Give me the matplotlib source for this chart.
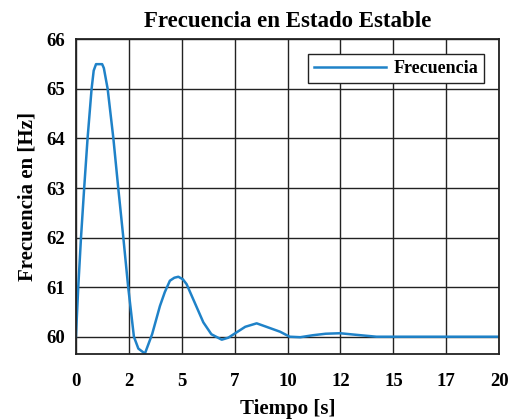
import matplotlib
matplotlib.use("Agg")
import matplotlib.pyplot as plt

# Frequency response samples: time [s] and frequency [Hz]
tiempo = [0.0, 0.11, 0.24, 0.39, 0.55, 0.74, 0.84, 0.95, 1.24, 1.32, 1.5, 1.77,
          2.0, 2.24, 2.47, 2.74, 2.95, 3.26, 3.6, 3.97, 4.2, 4.44, 4.65, 4.84,
          5.05, 5.23, 5.6, 6.02, 6.4, 6.89, 7.2, 7.6, 8.0, 8.54, 9.0, 9.65,
          10.1, 10.6, 11.2, 11.8, 12.48, 13.2, 14.2, 15.0, 17.5, 20.0]
frecuencia = [60.0, 61.0, 62.0, 63.0, 64.0, 65.0, 65.37, 65.5, 65.5, 65.42, 65.0, 64.0,
              63.0, 62.0, 61.0, 60.0, 59.76, 59.66, 60.05, 60.62, 60.9, 61.13, 61.19, 61.21,
              61.16, 61.06, 60.7, 60.29, 60.05, 59.94, 59.98, 60.09, 60.2, 60.27, 60.2, 60.1,
              60.0, 59.99, 60.03, 60.06, 60.07, 60.04, 60.0, 60.0, 60.0, 60.0]

xticks = [0, 2.5, 5, 7.5, 10, 12.5, 15, 17.5, 20]
xtick_labels = ["0", "2", "5", "7", "10", "12", "15", "17", "20"]
yticks = [60, 61, 62, 63, 64, 65, 66]

plt.rcParams["font.family"] = ["Liberation Serif", "DejaVu Serif"]
plt.rcParams["font.weight"] = "bold"

fig = plt.figure(figsize=(5.2, 4.19), dpi=100)
ax = fig.add_axes([0.146, 0.155, 0.814, 0.751])

ax.plot(tiempo, frecuencia, color="#1f82c8", lw=1.8, label="Frecuencia")

ax.set_xlim(0, 20)
ax.set_ylim(59.65, 66)
ax.set_xticks(xticks)
ax.set_xticklabels(xtick_labels)
ax.set_yticks(yticks)
ax.tick_params(length=0, labelsize=13.5)
ax.tick_params(axis="x", pad=14)
ax.tick_params(axis="y", pad=8)
for lab in ax.get_xticklabels() + ax.get_yticklabels():
    lab.set_fontweight("bold")

ax.grid(True, color="#222222", lw=1.0)
for sp in ax.spines.values():
    sp.set_linewidth(1.3)
    sp.set_color("#222222")

ax.set_title("Frecuencia en Estado Estable", fontsize=16.5, fontweight="bold", pad=9)
ax.set_xlabel("Tiempo [s]", fontsize=15, fontweight="bold", labelpad=6)
ax.set_ylabel("Frecuencia en [Hz]", fontsize=15, fontweight="bold", labelpad=6)

leg = ax.legend(loc="upper right", fontsize=13, fancybox=False, framealpha=1,
                edgecolor="#222222", handlelength=4.0, handletextpad=0.4,
                borderpad=0.35, borderaxespad=0,
                bbox_to_anchor=(0.965, 0.954))
leg.get_frame().set_linewidth(1.0)
for txt in leg.get_texts():
    txt.set_fontweight("bold")

fig.savefig("out.png", dpi=100)
